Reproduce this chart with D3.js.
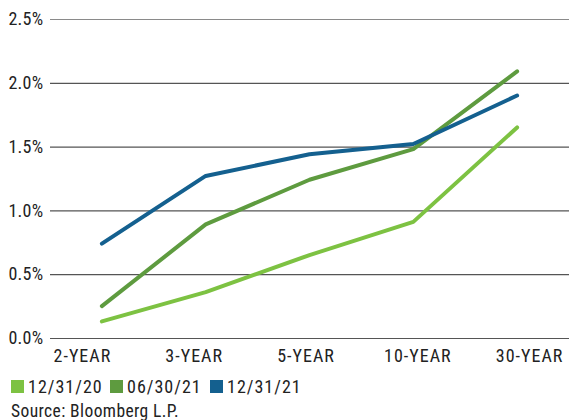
<!DOCTYPE html>
<html>
<head>
<meta charset="utf-8">
<script src="https://cdn.jsdelivr.net/npm/d3@7"></script>
<style>
  body { margin: 0; background: #fff; }
  text { font-family: "Roboto Condensed", "Roboto", sans-serif; fill: #222; }
</style>
</head>
<body>
<svg id="chart" width="569" height="420"></svg>
<script>
const categories = ['2-YEAR', '3-YEAR', '5-YEAR', '10-YEAR', '30-YEAR'];
const yTicks = [0, 0.5, 1.0, 1.5, 2.0, 2.5];
const seriesNames = ['12/31/20', '06/30/21', '12/31/21'];
const seriesColors = ['#7dc242', '#5e9b3f', '#14608f'];
const values2020 = [0.13, 0.36, 0.65, 0.91, 1.65];
const valuesJun21 = [0.25, 0.89, 1.24, 1.48, 2.09];
const valuesDec21 = [0.74, 1.27, 1.44, 1.52, 1.90];
const allSeries = [values2020, valuesJun21, valuesDec21];

const margin = { top: 19, right: 0, bottom: 82, left: 50 };
const width = 569 - margin.left - margin.right;
const height = 420 - margin.top - margin.bottom;

const svg = d3.select('#chart');
const g = svg.append('g')
  .attr('transform', `translate(${margin.left},${margin.top})`);

const xScale = d3.scalePoint()
  .domain(categories)
  .range([0, width])
  .padding(0.5);

// the category labels sit on a slightly wider spread than the points
const xLabelScale = d3.scalePoint()
  .domain(categories)
  .range([-24, width + 16])
  .padding(0.5);

const yScale = d3.scaleLinear()
  .domain([0, 2.5])
  .range([height, 0]);

// gridlines + y labels
const yAxis = d3.axisLeft(yScale)
  .tickValues(yTicks)
  .tickSize(-width)
  .tickFormat(d => d.toFixed(1) + '%');
g.append('g')
  .call(yAxis)
  .call(a => a.select('.domain').remove())
  .call(a => a.selectAll('line').attr('stroke', d => d === 2.5 ? '#8a8a8a' : '#555').attr('stroke-width', 1.2))
  .call(a => a.selectAll('text')
    .attr('font-size', 18).attr('fill', '#222')
    .attr('letter-spacing', 0.3)
    .attr('x', -6.5));

// x labels
const xAxis = d3.axisBottom(xLabelScale).tickSize(0).tickPadding(11);
g.append('g')
  .attr('transform', `translate(0,${height})`)
  .call(xAxis)
  .call(a => a.select('.domain').remove())
  .call(a => a.selectAll('text')
    .attr('font-size', 18).attr('fill', '#222')
    .attr('letter-spacing', 1));

const line = d3.line()
  .x((d, i) => xScale(categories[i]))
  .y(d => yScale(d));

g.selectAll('.series')
  .data(allSeries)
  .enter()
  .append('path')
  .attr('class', 'series')
  .attr('d', line)
  .attr('fill', 'none')
  .attr('stroke', (d, i) => seriesColors[i])
  .attr('stroke-width', 4)
  .attr('stroke-linecap', 'round')
  .attr('stroke-linejoin', 'round');

// legend
const legendX = [11, 110, 210];
const legend = svg.append('g').attr('transform', 'translate(0,380)');
seriesNames.forEach((name, i) => {
  legend.append('rect')
    .attr('x', legendX[i])
    .attr('y', 0)
    .attr('width', 13)
    .attr('height', 13)
    .attr('fill', seriesColors[i]);
  legend.append('text')
    .attr('x', legendX[i] + 17)
    .attr('y', 13)
    .attr('font-size', 18)
    .attr('letter-spacing', 1)
    .text(name);
});

svg.append('text')
  .attr('x', 11)
  .attr('y', 417)
  .attr('font-size', 17.5)
  .attr('letter-spacing', 0.4)
  .text('Source: Bloomberg L.P.');
</script>
</body>
</html>
